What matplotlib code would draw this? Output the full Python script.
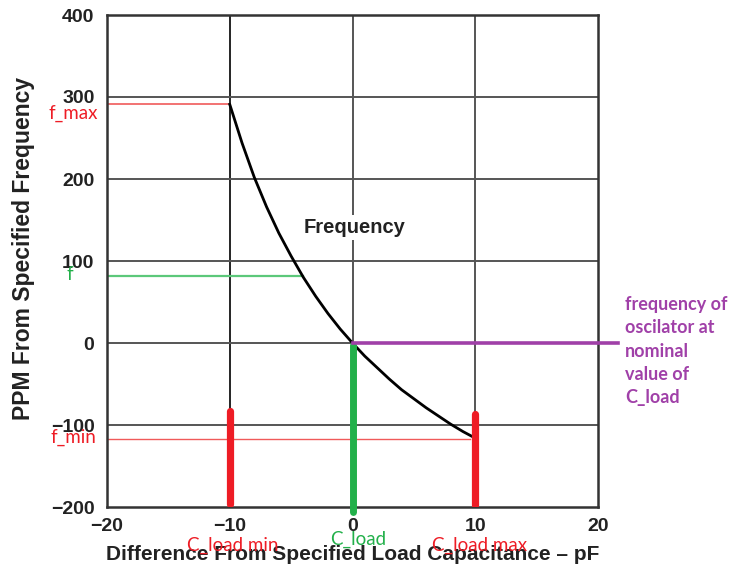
import matplotlib
matplotlib.use("Agg")
import matplotlib.pyplot as plt

# ---- data ----
dc_pf = [-10, -9, -8, -7, -6, -5, -4, -3, -2, -1, 0, 1, 2, 3, 4, 5, 6, 7, 8, 9, 10]
ppm = [291, 244, 202, 166, 134, 106, 80, 57, 36, 17, 0, -16, -30, -44, -57, -68, -79, -89, -99, -108, -116]

x_ticks = [-20, -10, 0, 10, 20]
y_ticks = [-200, -100, 0, 100, 200, 300, 400]

f_max = 291
f_mid = 82
f_mid_x = -4
f_min = -117
f_min_x_end = 9.6

c_min_bar = (-10, -83, -196)
c_nom_bar = (0, -2, -206)
c_max_bar = (10, -87, -197)
purple_end_x = 21.6

W, H = 733, 569
fig = plt.figure(figsize=(W / 100, H / 100), dpi=100)
ax = fig.add_axes([107 / W, (H - 507) / H, (598 - 107) / W, (507 - 15) / H])
ax.set_xlim(-20, 20)
ax.set_ylim(-200, 400)

grid_c = "#555555"
for xv in x_ticks[1:-1]:
    ax.axvline(xv, color="black" if xv == -10 else grid_c, lw=1.4 if xv != -10 else 1.2, zorder=1)
for yv in y_ticks[1:-1]:
    ax.axhline(yv, color=grid_c, lw=1.4, zorder=1)

for s in ax.spines.values():
    s.set_color("#333333")
    s.set_linewidth(1.8)

ax.set_xticks(x_ticks)
ax.set_yticks(y_ticks)
ax.tick_params(length=0, labelsize=14, colors="#222222")
ax.tick_params(axis="x", pad=8)
ax.tick_params(axis="y", pad=9)
for lab in ax.get_xticklabels() + ax.get_yticklabels():
    lab.set_fontweight("bold")
    lab.set_family("Liberation Sans")

# reference lines
ax.plot([-20, -10], [f_max, f_max], color="#f05a5a", lw=1.2, zorder=2)
ax.plot([-20, f_mid_x], [f_mid, f_mid], color="#5cc87a", lw=1.6, zorder=2)
ax.plot([-20, f_min_x_end], [f_min, f_min], color="#f05a5a", lw=1.0, zorder=2)

# curve
ax.plot(dc_pf, ppm, color="black", lw=2.0, zorder=4)

# bars
ax.plot([c_min_bar[0]] * 2, c_min_bar[1:], color="#ee1c25", lw=5.2, solid_capstyle="round", zorder=5)
ax.plot([c_max_bar[0]] * 2, c_max_bar[1:], color="#ee1c25", lw=5.2, solid_capstyle="round", zorder=5)
ax.plot([c_nom_bar[0]] * 2, c_nom_bar[1:], color="#22b04a", lw=5.0, solid_capstyle="round", zorder=5, clip_on=False)
ax.plot([0, purple_end_x], [0, 0], color="#a040a8", lw=2.6, zorder=5, clip_on=False)

# Frequency label (gap in grid)
ax.text(0.2, 141, "Frequency", ha="center", va="center", fontsize=14.5, fontweight="bold",
        family="Liberation Sans", color="#222222", zorder=3,
        bbox=dict(facecolor="white", edgecolor="none", pad=2))

# axis labels
fig.text(24 / W, 1 - 248 / H, "PPM From Specified Frequency", rotation=90, ha="center", va="center",
         fontsize=16.5, fontweight="bold", family="Liberation Sans", color="#222222")
fig.text(353 / W, 1 - 554 / H, "Difference From Specified Load Capacitance \u2013 pF", ha="center", va="center",
         fontsize=15, fontweight="bold", family="Liberation Sans", color="#222222")

# annotation labels
lab_font = "Lato"
fs = 13.5
fig.text(98 / W, 1 - 113 / H, "f_max", ha="right", va="center", fontsize=fs, color="#ee1c25", family=lab_font)
fig.text(73 / W, 1 - 274 / H, "f", ha="right", va="center", fontsize=fs, color="#22b04a", family=lab_font)
fig.text(96 / W, 1 - 437 / H, "f_min", ha="right", va="center", fontsize=fs, color="#ee1c25", family=lab_font)
fig.text(233 / W, 1 - 545 / H, "C_load min", ha="center", va="center", fontsize=fs, color="#ee1c25", family=lab_font)
fig.text(358 / W, 1 - 539 / H, "C_load", ha="center", va="center", fontsize=fs, color="#22b04a", family=lab_font)
fig.text(480 / W, 1 - 545 / H, "C_load max", ha="center", va="center", fontsize=fs, color="#ee1c25", family=lab_font)

fig.text(625 / W, 1 - 296 / H, "frequency of\noscilator at\nnominal\nvalue of\nC_load", ha="left", va="top",
         fontsize=13, color="#a040a8", family=lab_font, fontweight="bold", linespacing=1.45)

fig.savefig("out.png", dpi=100)
